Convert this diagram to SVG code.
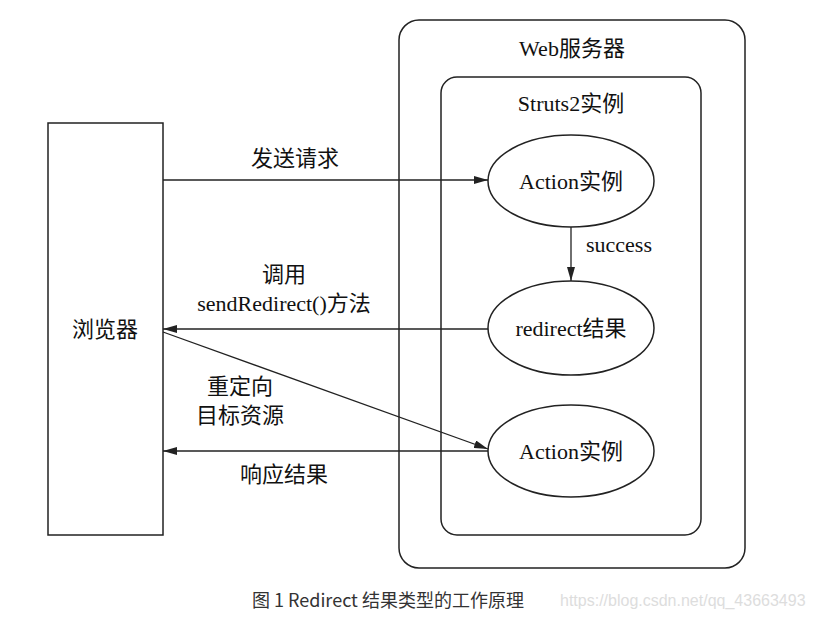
<svg xmlns="http://www.w3.org/2000/svg" width="813" height="618" viewBox="0 0 813 618">
<style>
.s{fill:#fff;stroke:#222;stroke-width:1.5}
.c line{stroke:#222;stroke-width:1.3}
text{font-family:"Liberation Serif","Noto Sans CJK SC",serif;font-size:22px;fill:#111;text-anchor:middle}
.cap{font-family:"Noto Sans CJK SC","Liberation Sans",sans-serif;font-size:18px;fill:#333;text-anchor:start}
.wm{font-family:"Liberation Sans",sans-serif;font-size:16px;fill:#ddd;text-anchor:start}
</style>
<defs><marker id="a" viewBox="0 0 14 8" refX="14" refY="4" markerWidth="14" markerHeight="8" markerUnits="userSpaceOnUse" orient="auto"><path d="M0,0L14,4L0,8Z" fill="#222"/></marker></defs>
<rect width="813" height="618" fill="#fff"/>
<g id="web"><rect class="s" x="399" y="20" width="346" height="548" rx="20"/><text x="572" y="56">Web服务器</text></g>
<g id="struts"><rect class="s" x="441" y="77" width="260" height="458" rx="16"/><text x="571" y="111">Struts2实例</text></g>
<g id="browser"><rect class="s" x="48" y="123" width="115" height="412"/><text x="105" y="337">浏览器</text></g>
<g id="action1"><ellipse class="s" cx="571" cy="181" rx="83" ry="46"/><text x="571" y="189">Action实例</text></g>
<g id="redirect"><ellipse class="s" cx="571" cy="328" rx="83" ry="47"/><text x="571" y="336">redirect结果</text></g>
<g id="action2"><ellipse class="s" cx="571" cy="451" rx="83" ry="46"/><text x="571" y="459">Action实例</text></g>
<g class="c">
<line x1="163" y1="180" x2="488" y2="180" marker-end="url(#a)"/>
<line x1="571" y1="227" x2="571" y2="281" marker-end="url(#a)"/>
<line x1="488" y1="329" x2="163" y2="329" marker-end="url(#a)"/>
<line x1="163" y1="332" x2="488" y2="449" marker-end="url(#a)"/>
<line x1="488" y1="451" x2="163" y2="451" marker-end="url(#a)"/>
</g>
<g id="labels">
<text x="295" y="166">发送请求</text>
<text x="619" y="252">success</text>
<text x="284" y="282">调用</text>
<text x="284" y="311">sendRedirect()方法</text>
<text x="240" y="394">重定向</text>
<text x="240" y="423">目标资源</text>
<text x="284" y="482">响应结果</text>
</g>
<text class="cap" x="252" y="607">图 1 Redirect 结果类型的工作原理</text>
<text class="wm" x="560" y="606">https://blog.csdn.net/qq_43663493</text>
</svg>
